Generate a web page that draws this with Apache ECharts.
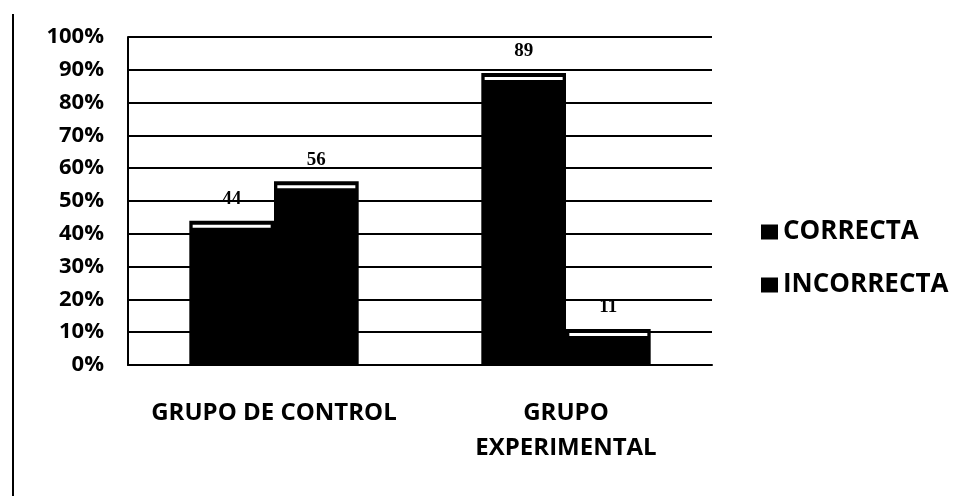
<!DOCTYPE html>
<html>
<head>
<meta charset="utf-8">
<script src="https://cdn.jsdelivr.net/npm/echarts@6/dist/echarts.min.js"></script>
<style>
  html, body { margin: 0; padding: 0; background: #fff; }
  #chart { width: 965px; height: 496px; }
</style>
</head>
<body>
<div id="chart"></div>
<script>
// datos
const grupos = ["GRUPO DE CONTROL", "GRUPO\nEXPERIMENTAL"];
const correcta = [44, 89];
const incorrecta = [56, 11];
const series = ["CORRECTA", "INCORRECTA"];

const chart = echarts.init(document.getElementById("chart"));

const labelStyle = {
  show: true,
  position: "top",
  distance: 12,
  fontFamily: "Liberation Serif",
  fontWeight: "bold",
  fontSize: 19,
  color: "#000"
};

// linea blanca cerca del borde superior (efecto 3D)
const bevel = (data) => ({
  type: "pictorialBar",
  data: data,
  symbol: "rect",
  symbolSize: [78, 3],
  symbolPosition: "end",
  symbolOffset: [0, 4],
  barGap: "0%",
  barCategoryGap: "42%",
  itemStyle: { color: "#fff" },
  silent: true,
  z: 5,
  tooltip: { show: false },
  legendHoverLink: false
});

const option = {
  animation: false,
  grid: { left: 128, right: 253, top: 37, bottom: 131 },
  legend: {
    orient: "vertical",
    left: 756,
    top: 214,
    itemGap: 27,
    itemWidth: 17,
    itemHeight: 15,
    icon: "rect",
    data: series,
    textStyle: {
      fontFamily: "Open Sans",
      fontWeight: "bold",
      fontSize: 26,
      color: "#000"
    }
  },
  xAxis: {
    type: "category",
    data: grupos,
    axisLine: { show: true, lineStyle: { color: "#000", width: 2 } },
    axisTick: { show: false },
    axisLabel: {
      interval: 0,
      hideOverlap: false,
      margin: 31,
      fontFamily: "Open Sans",
      fontWeight: "bold",
      fontSize: 24,
      lineHeight: 35,
      color: "#000"
    }
  },
  yAxis: {
    type: "value",
    min: 0,
    max: 100,
    interval: 10,
    axisLine: { show: true, lineStyle: { color: "#000", width: 2 } },
    axisTick: { show: false },
    axisLabel: {
      margin: 24,
      formatter: "{value}%",
      fontFamily: "Open Sans",
      fontWeight: "bold",
      fontSize: 22,
      color: "#000"
    },
    splitLine: { lineStyle: { color: "#000", width: 2 } }
  },
  series: [
    {
      name: series[0],
      type: "bar",
      data: correcta,
      barGap: "0%",
      barCategoryGap: "42%",
      itemStyle: { color: "#000" },
      label: labelStyle
    },
    {
      name: series[1],
      type: "bar",
      data: incorrecta,
      barGap: "0%",
      barCategoryGap: "42%",
      itemStyle: { color: "#000" },
      label: labelStyle
    },
    bevel(correcta),
    bevel(incorrecta)
  ],
  graphic: [
    {
      type: "line",
      shape: { x1: 13, y1: 14, x2: 13, y2: 496 },
      style: { stroke: "#000", lineWidth: 2 }
    }
  ]
};

chart.setOption(option);
</script>
</body>
</html>
